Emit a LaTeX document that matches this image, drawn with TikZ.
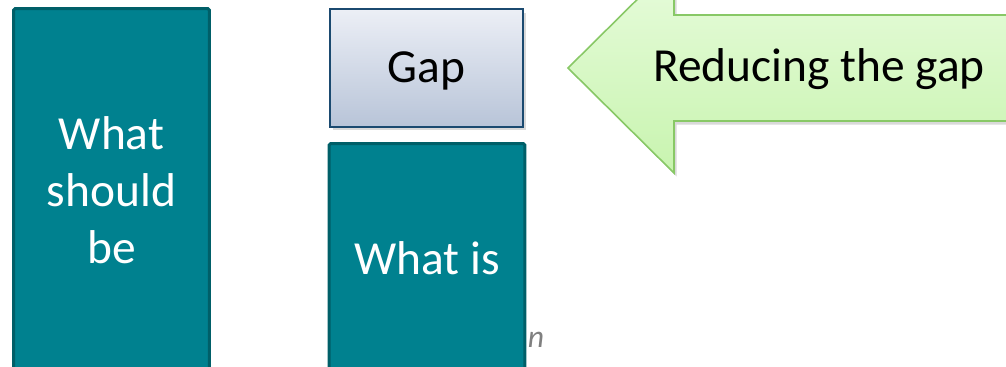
\documentclass[tikz,border=0pt]{standalone}
\usepackage{fontspec}
\setmainfont{Carlito}
\usetikzlibrary{shadows}
\definecolor{tealfill}{RGB}{0,129,143}
\definecolor{tealline}{RGB}{0,95,104}
\definecolor{gaptop}{RGB}{236,239,246}
\definecolor{gapbottom}{RGB}{184,196,216}
\definecolor{gapline}{RGB}{27,74,112}
\definecolor{arrowtop}{RGB}{232,252,221}
\definecolor{arrowbottom}{RGB}{200,244,175}
\definecolor{arrowline}{RGB}{136,200,102}
\begin{document}
\begin{tikzpicture}[x=0.02cm, y=-0.02cm]
	\tikzstyle{tealbox}=[rectangle, draw=tealline, fill=tealfill, line width=1.7pt, rounded corners=1pt, text=white, align=center, font=\fontsize{27}{32.5}\selectfont, minimum width=3.92cm]
	\tikzstyle{gapbox}=[rectangle, draw=gapline, top color=gaptop, bottom color=gapbottom, line width=1.1pt, font=\fontsize{27}{32.5}\selectfont, text depth=0.3ex, minimum width=3.86cm, minimum height=2.36cm, drop shadow={opacity=0.3, shadow xshift=1.5pt, shadow yshift=-2pt}]
	\useasboundingbox (0,0) rectangle (1006,367);

	\draw node[tealbox, minimum height=7.27cm] at (111.5,190.25) (should) {What\\should\\be};
	\draw node[gapbox] at (426.5,68) (gap) {Gap};
	\draw node[tealbox, minimum height=4.57cm] at (427,257.75) (whatis) {What is};
	\draw node[text=gray, font=\fontsize{18}{20}\selectfont\itshape] at (536,340) (note) {n};

	% reducing arrow
	\path[draw=arrowline, line width=0.9pt, top color=arrowtop, bottom color=arrowbottom, drop shadow={opacity=0.3, shadow xshift=1.5pt, shadow yshift=-2pt}]
		(568,68) -- (674,-37) -- (674,15) -- (1030,15) -- (1030,121) -- (674,121) -- (674,173) -- cycle;
	\draw node[anchor=base, font=\fontsize{27}{32.5}\selectfont] at (819,82) (reduce) {Reducing the gap};
\end{tikzpicture}
\end{document}
